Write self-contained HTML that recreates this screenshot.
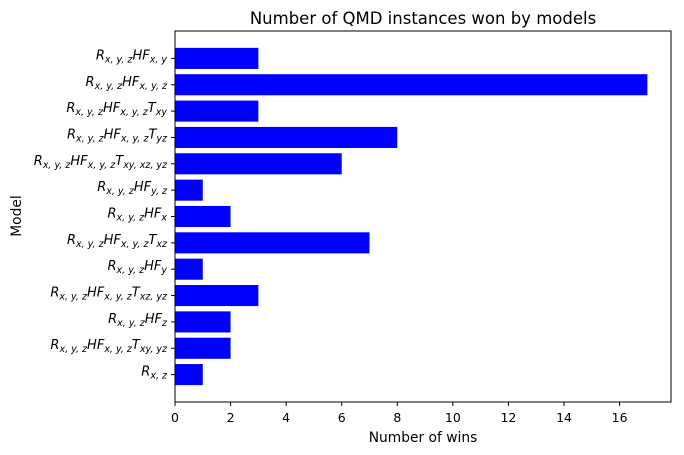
<!DOCTYPE html>
<html><head><meta charset="utf-8"><style>
body{margin:0;background:#fff}
svg{display:block;font-family:"DejaVu Sans","Liberation Sans",sans-serif}
</style></head><body>
<svg id="chart" width="684" height="455">
<text x="423" y="24" text-anchor="middle" font-size="16.5">Number of QMD instances won by models</text>
<text x="423" y="442" text-anchor="middle" font-size="13.8">Number of wins</text>
<text x="21" y="216" text-anchor="middle" font-size="13.8" transform="rotate(-90 21 216)">Model</text>
<g id="bars"></g><g id="xticks"></g><g id="yticks"></g>
<rect x="175" y="31" width="496" height="371" fill="none" stroke="#000" stroke-width="1"/>
</svg>
<script>
// categories bottom-to-top: [R subscript, HF subscript, T subscript]
const catR = ["x,z","x,y,z","x,y,z","x,y,z","x,y,z","x,y,z","x,y,z","x,y,z","x,y,z","x,y,z","x,y,z","x,y,z","x,y,z"];
const catHF = ["","x,y,z","z","x,y,z","y","x,y,z","x","y,z","x,y,z","x,y,z","x,y,z","x,y,z","x,y"];
const catT = ["","xy,yz","","xz,yz","","xz","","","xy,xz,yz","yz","xy","",""];
const wins = [1,2,2,3,1,7,2,1,6,8,3,17,3];
const xTicks = [0,2,4,6,8,10,12,14,16];
const NS="http://www.w3.org/2000/svg";
const X0=175,X1=671,xMax=Math.max(...wins)*1.05;
const Ytop=31,Ybot=402,n=wins.length,yMin=-0.4-0.05*(n-0.2),yMaxV=n-1+0.4+0.05*(n-0.2);
const xs=v=>X0+v/xMax*(X1-X0);
const ys=i=>Ybot-(i-yMin)/(yMaxV-yMin)*(Ybot-Ytop);
const unit=(Ybot-Ytop)/(yMaxV-yMin);
const bars=document.getElementById('bars');
wins.forEach((v,i)=>{
 const r=document.createElementNS(NS,'rect');
 r.setAttribute('x',xs(0));r.setAttribute('y',ys(i)-0.4*unit);
 r.setAttribute('width',xs(v)-xs(0));r.setAttribute('height',0.8*unit);
 r.setAttribute('fill','#0000ff');
 
 
 bars.appendChild(r);
});
const xt=document.getElementById('xticks');
xTicks.forEach(t=>{
 const l=document.createElementNS(NS,'line');
 l.setAttribute('x1',xs(t));l.setAttribute('x2',xs(t));l.setAttribute('y1',Ybot);l.setAttribute('y2',Ybot+4);l.setAttribute('stroke','#000');
 
 
 xt.appendChild(l);
 const tx=document.createElementNS(NS,'text');
 tx.setAttribute('x',xs(t));tx.setAttribute('y',Ybot+20);tx.setAttribute('text-anchor','middle');tx.setAttribute('font-size','12.5');
 tx.textContent=t;
 
 
 xt.appendChild(tx);
});
const yt=document.getElementById('yticks');
function seg(txt,main,sub){
 const a=document.createElementNS(NS,'tspan');a.textContent=main;a.setAttribute('font-size','13');txt.appendChild(a);
 if(sub){const b=document.createElementNS(NS,'tspan');b.textContent=sub.split(',').join(', ');b.setAttribute('font-size','9.5');b.setAttribute('dy','3');txt.appendChild(b);
 const c=document.createElementNS(NS,'tspan');c.textContent='\u200b';c.setAttribute('dy','-3');txt.appendChild(c);}
}
wins.forEach((v,i)=>{
 const y=ys(i);
 const l=document.createElementNS(NS,'line');
 l.setAttribute('x1',X0-4);l.setAttribute('x2',X0);l.setAttribute('y1',y);l.setAttribute('y2',y);l.setAttribute('stroke','#000');
 
 
 yt.appendChild(l);
 const t=document.createElementNS(NS,'text');
 t.setAttribute('x',X0-8);t.setAttribute('y',y+1);t.setAttribute('text-anchor','end');t.setAttribute('font-style','italic');
 seg(t,'R',catR[i]);
 if(catHF[i]) seg(t,'HF',catHF[i]);
 if(catT[i]) seg(t,'T',catT[i]);
 
 
 yt.appendChild(t);
});
</script>
</body></html>
